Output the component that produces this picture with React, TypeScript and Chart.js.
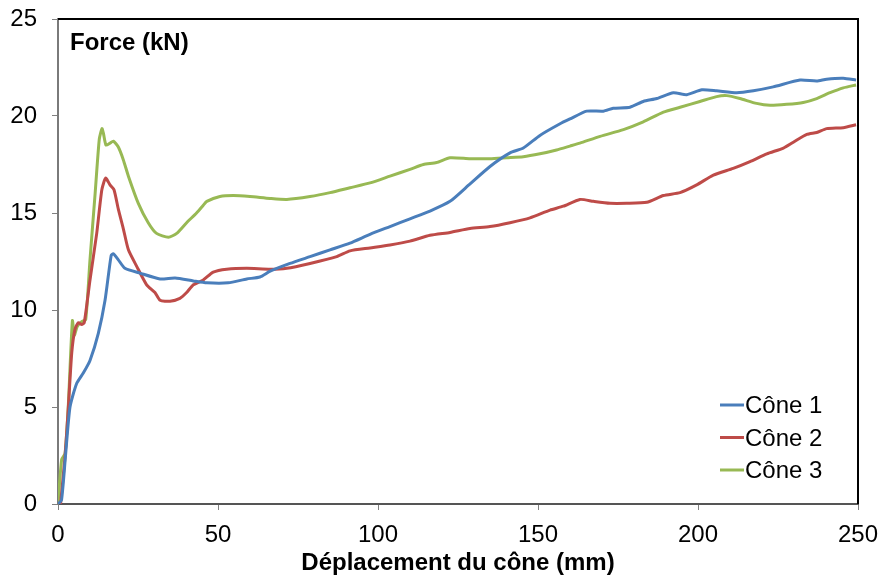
import React, { useEffect, useRef } from "react";
import { Chart, registerables } from "chart.js";

Chart.register(...registerables);

const FONT = "'Liberation Sans', Arial, Helvetica, sans-serif";

const seriesNames = ["Cône 1", "Cône 2", "Cône 3"];
const seriesColors = ["#4a7ebb", "#be4b48", "#98b954"];

const cone1X = [0, 1.1, 2.4, 3.75, 5.8, 7.9, 10, 12.6, 14.7, 16.6, 17.3, 18.8, 20.9, 25.6, 31.9, 36.6, 42.3, 46.5, 53.2, 59, 63.1, 66.3, 72.5, 78.75, 85, 91.25, 97.5, 103.75, 110, 116.25, 122.5, 128.75, 135, 141.25, 145.4, 150.6, 156.9, 160, 165.2, 170.4, 173.5, 178.75, 182.9, 187.1, 192.3, 196.5, 201.2, 205.8, 212.1, 217.3, 223.5, 231.9, 237.1, 240.2, 245.4, 249.4];
const cone1Y = [0, 0.2, 2.6, 5.0, 6.2, 6.75, 7.4, 8.8, 10.5, 12.8, 12.9, 12.6, 12.15, 11.9, 11.6, 11.65, 11.5, 11.4, 11.4, 11.6, 11.7, 12.0, 12.4, 12.75, 13.1, 13.45, 13.9, 14.3, 14.7, 15.1, 15.6, 16.5, 17.4, 18.1, 18.35, 19.0, 19.6, 19.85, 20.25, 20.25, 20.4, 20.45, 20.75, 20.9, 21.2, 21.1, 21.35, 21.3, 21.2, 21.3, 21.5, 21.85, 21.8, 21.9, 21.95, 21.85];

const cone2X = [0.8, 2.2, 3.2, 4.3, 5.3, 6.35, 7.4, 8.2, 10, 12.1, 13.7, 14.9, 16.25, 17.5, 18.85, 20.4, 22, 24.6, 27.7, 30.3, 31.9, 35, 38.1, 40.2, 42.3, 45.4, 48.5, 52.7, 59, 66.25, 71.5, 78.75, 87.1, 91.25, 97.5, 103.75, 110, 116.25, 122.5, 128.75, 135, 141.25, 147.5, 153.75, 157.9, 163.1, 167.3, 172.5, 177.7, 184, 189.2, 194.4, 199.6, 204.8, 211, 216.25, 221.5, 226.7, 229.8, 234, 237.1, 240.2, 245.4, 249.4];
const cone2Y = [0, 2.45, 4.9, 7.8, 9.0, 9.35, 9.25, 9.35, 11.55, 13.95, 16.2, 16.8, 16.45, 16.2, 15.2, 14.2, 13.1, 12.25, 11.3, 10.9, 10.5, 10.45, 10.6, 10.9, 11.3, 11.55, 11.95, 12.1, 12.15, 12.1, 12.15, 12.4, 12.75, 13.05, 13.2, 13.35, 13.55, 13.85, 14.0, 14.2, 14.3, 14.5, 14.75, 15.15, 15.35, 15.7, 15.6, 15.5, 15.5, 15.55, 15.9, 16.05, 16.45, 16.95, 17.3, 17.65, 18.05, 18.35, 18.65, 19.05, 19.15, 19.35, 19.4, 19.55];

const cone3X = [0, 1.15, 2.2, 3.2, 4.5, 5.1, 6.0, 7.4, 8.65, 10, 11.6, 12.9, 13.75, 14.2, 15, 16.25, 17.3, 18.85, 20.4, 22, 25.1, 28.2, 30.8, 34.5, 37.1, 40.2, 43.3, 45.4, 46.5, 50.6, 54.8, 60, 66.25, 71.5, 78.75, 85, 91.25, 97.5, 103.75, 110, 114.2, 118.3, 122.5, 128.75, 135, 140.2, 145.4, 150.6, 155.8, 160, 163.1, 169.4, 176.7, 182.9, 189.2, 194.4, 200.6, 205.8, 209, 213.1, 218.3, 222.5, 227.7, 232.9, 237.1, 241.25, 245.4, 249.4];
const cone3Y = [0, 2.3, 2.6, 5.0, 9.45, 8.7, 9.15, 9.4, 9.5, 12.6, 16.0, 18.8, 19.35, 19.1, 18.5, 18.6, 18.7, 18.4, 17.75, 16.9, 15.5, 14.5, 13.95, 13.75, 13.95, 14.5, 15.0, 15.4, 15.6, 15.85, 15.9, 15.85, 15.75, 15.7, 15.85, 16.05, 16.3, 16.55, 16.9, 17.25, 17.5, 17.6, 17.85, 17.8, 17.8, 17.85, 17.9, 18.05, 18.25, 18.45, 18.6, 18.95, 19.3, 19.7, 20.2, 20.45, 20.75, 21.0, 21.05, 20.9, 20.65, 20.55, 20.6, 20.7, 20.9, 21.2, 21.45, 21.6];

const xTitle = "Déplacement du cône (mm)";
const yTitle = "Force (kN)";

const seriesX = [cone1X, cone2X, cone3X];
const seriesY = [cone1Y, cone2Y, cone3Y];

const overlayPlugin = {
  id: "overlay",
  afterDatasetsDraw(chart: any) {
    const { ctx, chartArea } = chart;
    ctx.save();
    ctx.strokeStyle = "#000";
    ctx.lineWidth = 2;
    ctx.beginPath();
    ctx.moveTo(chartArea.left, chartArea.top);
    ctx.lineTo(chartArea.right, chartArea.top);
    ctx.lineTo(chartArea.right, chartArea.bottom);
    ctx.stroke();
    ctx.fillStyle = "#000";
    ctx.font = `bold 24px ${FONT}`;
    ctx.textAlign = "left";
    ctx.textBaseline = "alphabetic";
    ctx.fillText(yTitle, chartArea.left + 12, chartArea.top + 31);
    ctx.font = `24px ${FONT}`;
    const lx = chartArea.right - 138;
    const ly0 = chartArea.bottom - 99;
    seriesNames.forEach((name, i) => {
      const y = ly0 + i * 32.5;
      ctx.strokeStyle = seriesColors[i];
      ctx.lineWidth = 3;
      ctx.beginPath();
      ctx.moveTo(lx, y);
      ctx.lineTo(lx + 24, y);
      ctx.stroke();
      ctx.fillText(name, lx + 25, y + 8);
    });
    ctx.restore();
  },
};

function noPad(scale: any) {
  scale.paddingTop = 0;
  scale.paddingBottom = 0;
  scale.paddingLeft = 0;
  scale.paddingRight = 0;
}

export default function App() {
  const ref = useRef<HTMLCanvasElement>(null);
  useEffect(() => {
    document.body.style.margin = "0";
    const canvas = ref.current!;
    const chart = new Chart(canvas, {
      type: "line",
      data: {
        datasets: seriesNames.map((name, i) => ({
          label: name,
          data: seriesX[i].map((x, j) => ({ x, y: seriesY[i][j] })),
          borderColor: seriesColors[i],
          backgroundColor: seriesColors[i],
          borderWidth: 3,
          pointRadius: 0,
          tension: 0.2,
          fill: false,
        })),
      },
      options: {
        responsive: false,
        animation: false,
        layout: { padding: { left: 0, top: 19, right: 22, bottom: 0 } },
        plugins: { legend: { display: false }, tooltip: { enabled: false }, title: { display: false } },
        scales: {
          x: {
            type: "linear",
            min: 0,
            max: 250,
            ticks: { stepSize: 50, color: "#000", font: { family: FONT, size: 24 }, padding: 11 },
            grid: { drawOnChartArea: false, drawTicks: true, tickLength: 6, color: "#808080", lineWidth: 1 },
            border: { display: true, color: "#555", width: 2 },
            title: { display: true, text: xTitle, color: "#000", font: { family: FONT, size: 24, weight: "bold" }, padding: { top: 0, bottom: 2 } },
            afterFit(scale: any) { scale.height = 76; noPad(scale); },
          },
          y: {
            type: "linear",
            min: 0,
            max: 25,
            ticks: { stepSize: 5, color: "#000", font: { family: FONT, size: 24 }, padding: 15 },
            grid: { drawOnChartArea: false, drawTicks: true, tickLength: 6, color: "#808080", lineWidth: 1 },
            border: { display: true, color: "#7a7a7a", width: 2 },
            afterFit(scale: any) { scale.width = 58; noPad(scale); },
          },
        },
      },
      plugins: [overlayPlugin],
    });
    return () => chart.destroy();
  }, []);
  return <canvas ref={ref} width={880} height={580} style={{ display: "block" }} />;
}
